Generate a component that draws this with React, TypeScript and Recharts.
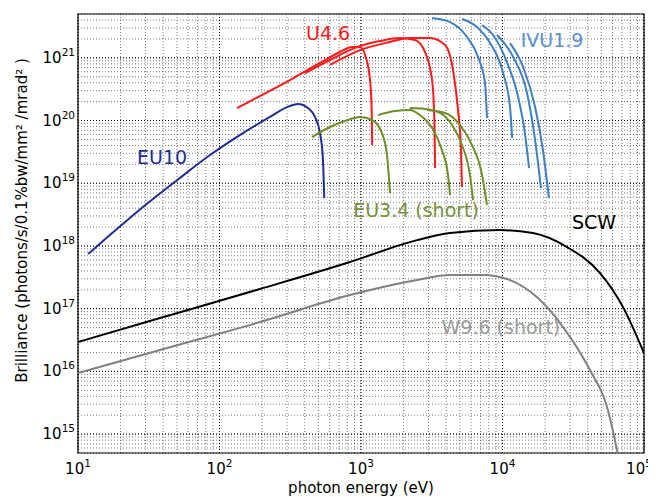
import React from 'react';
import {
  LineChart,
  Line,
  XAxis,
  YAxis,
  CartesianGrid,
  ReferenceLine,
  ReferenceArea,
  ReferenceDot,
} from 'recharts';

type Pt = [number, number];

// photon energy (eV), brilliance
const EU10: Pt[] = [
  [11.8, 7.43e17], [16.8, 1.49e18], [28.8, 4.18e18], [50.1, 1.12e19], [85.7, 2.82e19],
  [146.5, 6.32e19], [227, 1.14e20], [300, 1.64e20], [359, 1.84e20], [422, 1.58e20],
  [473, 1.14e20], [513, 6.32e19], [537, 2.62e19], [550, 5.8e18],
];

const U46_1: Pt[] = [
  [133, 1.58e20], [193, 2.46e20], [315, 4.43e20], [513, 8.28e20], [711, 1.24e21],
  [864, 1.49e21], [984, 1.49e21], [1085, 9.93e20], [1158, 4.43e20], [1190, 1.47e20], [1200, 4.07e19],
];
const U46_2: Pt[] = [
  [402, 5.73e20], [604, 9.23e20], [907, 1.44e21], [1362, 1.85e21], [1887, 2.07e21],
  [2410, 1.92e21], [2830, 1.24e21], [3180, 4.43e20], [3300, 1.02e20], [3340, 1.75e19],
];
const U46_3: Pt[] = [
  [604, 7.69e20], [984, 1.33e21], [1603, 1.79e21], [2218, 2.07e21], [3073, 2.07e21],
  [3926, 1.6e21], [4470, 6.4e20], [4850, 1.47e20], [5090, 3.39e19], [5170, 8.71e18],
];

const EU34_1: Pt[] = [
  [451, 5.46e19], [604, 7.89e19], [771, 9.82e19], [984, 1.14e20], [1197, 1.02e20],
  [1406, 6.32e19], [1527, 2.82e19], [1603, 6.98e18],
];
const EU34_2: Pt[] = [
  [1318, 1.22e20], [1738, 1.42e20], [2218, 1.47e20], [2610, 1.22e20], [3180, 7.6e19],
  [3730, 3.39e19], [4120, 1.35e19], [4260, 6.49e18],
];
const EU34_3: Pt[] = [
  [2218, 1.58e20], [2830, 1.53e20], [3610, 1.32e20], [4400, 8.49e19], [5170, 4.07e19],
  [5890, 1.35e19], [6190, 5.4e18],
];
const EU34_4: Pt[] = [
  [2925, 1.47e20], [3926, 1.32e20], [5010, 8.49e19], [6090, 4.07e19], [7050, 1.63e19], [7770, 4.5e18],
];

const IVU19_1: Pt[] = [
  [3180, 4.31e21], [4260, 3.72e21], [5610, 2.15e21], [6720, 1.03e21], [7520, 3.97e20], [7770, 1.1e20],
];
const IVU19_2: Pt[] = [
  [5170, 4.16e21], [6600, 3.1e21], [8170, 1.72e21], [10100, 5.73e20], [11300, 1.64e20], [11700, 5.26e19],
];
const IVU19_3: Pt[] = [
  [7160, 3.34e21], [8570, 2.31e21], [10800, 8.28e20], [12900, 2.37e20], [14400, 6.32e19], [15400, 1.75e19],
];
const IVU19_4: Pt[] = [
  [9150, 2.31e21], [11900, 1.03e21], [14900, 2.75e20], [17000, 4.89e19], [18700, 8.4e18],
];
const IVU19_5: Pt[] = [
  [11300, 1.72e21], [14000, 7.14e20], [17000, 1.64e20], [19300, 3.39e19], [21300, 5.8e18],
];

const SCW: Pt[] = [
  [10, 2.94e16], [38, 7.1e16], [193, 2.06e17], [836, 5.55e17], [2490, 1.24e18], [4260, 1.61e18],
  [9600, 1.79e18], [16400, 1.61e18], [28600, 9.6e17], [48900, 3.7e17], [71100, 1.06e17], [100000, 1.96e16],
];
const W96: Pt[] = [
  [10, 9.4e15], [38, 2.19e16], [193, 6.12e16], [836, 1.65e17], [2490, 2.86e17], [4260, 3.44e17],
  [7280, 3.44e17], [11300, 2.86e17], [17500, 1.53e17], [26800, 5.09e16], [41500, 1.05e16],
  [54800, 2.7e15], [64400, 5.56e14], [67600, 3.2e14],
];

const xDomain: [number, number] = [10, 100000];
const yDomain: [number, number] = [5e14, 5e21];
const xMajorTicks = [10, 100, 1000, 10000, 100000];
const yMajorTicks = [1e15, 1e16, 1e17, 1e18, 1e19, 1e20, 1e21];
const minorSteps = [1, 2, 3, 4, 5, 6, 7, 8, 9];

const xTicks: number[] = [];
xMajorTicks.slice(0, -1).forEach((m) => minorSteps.forEach((k) => xTicks.push(m * k)));
xTicks.push(100000);
const yTicks: number[] = [5e14, 6e14, 7e14, 8e14, 9e14];
yMajorTicks.slice(0, -1).forEach((m) => minorSteps.forEach((k) => yTicks.push(m * k)));
[1e21, 2e21, 3e21, 4e21, 5e21].forEach((v) => yTicks.push(v));

const C_EU10 = '#1f2d96';
const C_U46 = '#ff1a1a';
const C_IVU = '#3f80c2';
const C_EU34 = '#6e8e26';
const C_SCW = '#000000';
const C_W96 = '#808080';

const curves: { id: string; pts: Pt[]; color: string }[] = [
  { id: 'scw', pts: SCW, color: C_SCW },
  { id: 'w96', pts: W96, color: C_W96 },
  { id: 'eu10', pts: EU10, color: C_EU10 },
  { id: 'u1', pts: U46_1, color: C_U46 },
  { id: 'u2', pts: U46_2, color: C_U46 },
  { id: 'u3', pts: U46_3, color: C_U46 },
  { id: 'g1', pts: EU34_1, color: C_EU34 },
  { id: 'g2', pts: EU34_2, color: C_EU34 },
  { id: 'g3', pts: EU34_3, color: C_EU34 },
  { id: 'g4', pts: EU34_4, color: C_EU34 },
  { id: 'b1', pts: IVU19_1, color: C_IVU },
  { id: 'b2', pts: IVU19_2, color: C_IVU },
  { id: 'b3', pts: IVU19_3, color: C_IVU },
  { id: 'b4', pts: IVU19_4, color: C_IVU },
  { id: 'b5', pts: IVU19_5, color: C_IVU },
];

const labelTexts = ['U4.6', 'IVU1.9', 'EU10', 'EU3.4 (short)', 'SCW', 'W9.6 (short)'];
const labelX = [585, 22400, 39.3, 2450, 44400, 9750];
const labelY = [2.49e21, 1.92e21, 2.62e19, 3.74e18, 2.41e18, 5.1e16];
const labelColors = [C_U46, '#5a93cc', C_EU10, '#74913a', '#000000', '#9a9a9a'];

const isMajor = (v: number) => Math.abs(Math.log10(v) - Math.round(Math.log10(v))) < 1e-9;

const XTick = (props: any) => {
  const { x, y, payload } = props;
  const v = payload.value;
  if (!isMajor(v)) return null;
  const e = Math.round(Math.log10(v));
  const shift = v === xDomain[1] ? -5 : 0;
  return (
    <text x={x + shift} y={y + 21} textAnchor="middle" fill="#000" fontSize={15}>
      <tspan>10</tspan>
      <tspan dy={-7} fontSize={10.5}>{e}</tspan>
    </text>
  );
};

const YTick = (props: any) => {
  const { x, y, payload } = props;
  const v = payload.value;
  if (!isMajor(v)) return null;
  const e = Math.round(Math.log10(v));
  return (
    <text x={x - 3} y={y + 5} textAnchor="end" fill="#000" fontSize={15}>
      <tspan>10</tspan>
      <tspan dy={-7} fontSize={10.5}>{e}</tspan>
    </text>
  );
};

const YLabel = (props: any) => {
  const vb = props.viewBox || {};
  const cx = (vb.x || 0) + 14;
  const cy = (vb.y || 0) + (vb.height || 0) / 2 - 13;
  return (
    <text
      x={cx}
      y={cy}
      transform={`rotate(-90, ${cx}, ${cy})`}
      textAnchor="middle"
      dominantBaseline="central"
      fontSize={15}
      fill="#000"
    >
      Brilliance (photons/s/0.1%bw/mm² /mrad² )
    </text>
  );
};

export default function App() {
  return (
    <div style={{ width: 648, height: 489, fontFamily: '"DejaVu Sans", sans-serif' }}>
      <LineChart width={648} height={489} margin={{ top: 6, right: 12, left: 0, bottom: 0 }}>
        <CartesianGrid stroke="#444" strokeDasharray="1 2" strokeWidth={0.7} horizontal vertical />
        <XAxis
          dataKey="x"
          type="number"
          scale="log"
          domain={xDomain}
          allowDataOverflow
          ticks={xTicks}
          interval={0}
          tick={<XTick />}
          tickLine={false}
          tickSize={0}
          tickMargin={0}
          axisLine={false}
          height={44}
          label={{ value: 'photon energy (eV)', position: 'insideBottom', offset: 4, fontSize: 15, fill: '#000' }}
        />
        <YAxis
          dataKey="y"
          type="number"
          scale="log"
          domain={yDomain}
          allowDataOverflow
          ticks={yTicks}
          interval={0}
          tick={<YTick />}
          tickLine={false}
          tickSize={0}
          tickMargin={0}
          axisLine={false}
          width={70}
          label={<YLabel />}
        />
        {xMajorTicks.map((v) => (
          <ReferenceLine key={'xm' + v} x={v} stroke="#000" strokeDasharray="1 2" strokeWidth={1} />
        ))}
        {yMajorTicks.map((v) => (
          <ReferenceLine key={'ym' + v} y={v} stroke="#000" strokeDasharray="1 2" strokeWidth={1} />
        ))}
        {curves.map((c) => (
          <Line
            key={c.id}
            data={c.pts.map(([x, y]) => ({ x, y }))}
            dataKey="y"
            type="monotone"
            stroke={c.color}
            strokeWidth={2}
            dot={false}
            activeDot={false}
            isAnimationActive={false}
          />
        ))}
        {labelTexts.map((t, i) => (
          <ReferenceDot
            key={t}
            x={labelX[i]}
            y={labelY[i]}
            r={0}
            stroke="none"
            fill="none"
            label={{ value: t, position: 'center', fill: labelColors[i], fontSize: 19 }}
          />
        ))}
        <ReferenceArea
          x1={xDomain[0]}
          x2={xDomain[1]}
          y1={yDomain[0]}
          y2={yDomain[1]}
          fill="none"
          stroke="#000"
          strokeWidth={1.2}
          ifOverflow="visible"
        />
      </LineChart>
    </div>
  );
}
